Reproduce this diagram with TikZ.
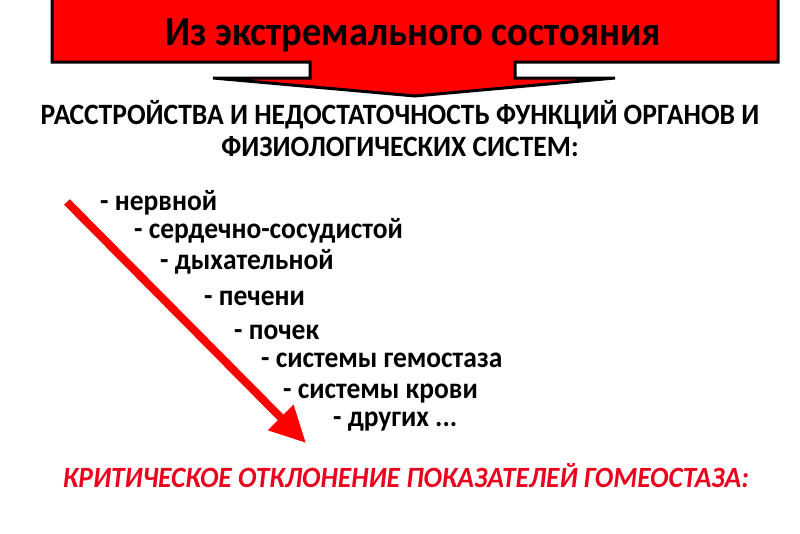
\documentclass[tikz,border=0pt]{standalone}
\usepackage{fontspec}
\setmainfont{Carlito}
\usetikzlibrary{arrows.meta}
\definecolor{banred}{RGB}{255,0,0}
\definecolor{txtred}{RGB}{235,0,30}
\newcommand{\tallt}[1]{\scalebox{1}[1.07]{#1}}
\begin{document}
\begin{tikzpicture}[x=1pt,y=-1pt,
  item/.style={anchor=base west,inner sep=0pt,font=\fontsize{27.5}{30}\selectfont\bfseries},
  heading/.style={inner sep=0pt,font=\fontsize{27.6}{30}\selectfont\bfseries},
  bigarrow/.style={draw=banred,line width=8pt,-{Triangle[length=36pt,width=34pt]}}]
\useasboundingbox[fill=white] (0,0) rectangle (800,533);
\fill[banred,draw=black,line width=3pt,line join=miter]
  (52,-5) -- (52,62) -- (310,62) -- (310,78) -- (213,78) -- (415,96)
  -- (615,78) -- (515,78) -- (515,62) -- (778,62) -- (778,-5);
\node[inner sep=0pt,font=\fontsize{38.5}{40}\selectfont\bfseries] (title) at (413,35) {\tallt{Из экстремального состояния}};
\node[heading] (h1) at (400,115) {\tallt{РАССТРОЙСТВА И НЕДОСТАТОЧНОСТЬ ФУНКЦИЙ ОРГАНОВ И}};
\node[heading] (h2) at (400,147) {\tallt{ФИЗИОЛОГИЧЕСКИХ СИСТЕМ:}};
\node[item] (i1) at (100,210) {\tallt{- нервной}};
\node[item] (i2) at (134,238) {\tallt{- сердечно-сосудистой}};
\node[item] (i3) at (160,269) {\tallt{- дыхательной}};
\node[item] (i4) at (204,305) {\tallt{- печени}};
\node[item] (i5) at (234,339) {\tallt{- почек}};
\node[item] (i6) at (261,367) {\tallt{- системы гемостаза}};
\node[item] (i7) at (283,398) {\tallt{- системы крови}};
\node[item] (i8) at (333,426) {\tallt{- других ...}};
\coordinate (as) at (67,202);
\coordinate (ae) at (306,443);
\draw[bigarrow] (as) -- (ae);
\node[inner sep=0pt,text=txtred,font=\fontsize{27.5}{30}\selectfont\bfseries\itshape] (crit) at (406,476) {\tallt{КРИТИЧЕСКОЕ ОТКЛОНЕНИЕ ПОКАЗАТЕЛЕЙ ГОМЕОСТАЗА:}};
\end{tikzpicture}
\end{document}
